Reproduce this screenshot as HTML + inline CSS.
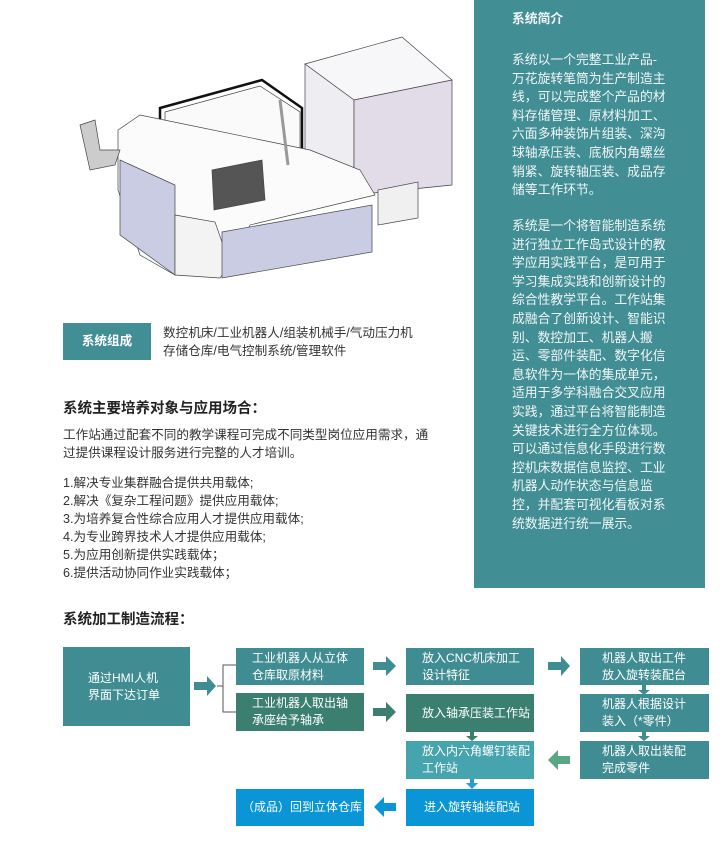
<!DOCTYPE html>
<html><head><meta charset="utf-8"><style>
*{margin:0;padding:0;box-sizing:border-box}
body{width:724px;height:846px;background:#fff;position:relative;overflow:hidden;font-family:"Liberation Sans","Noto Sans CJK SC",sans-serif;color:#333}
.a{position:absolute}
.panel{left:474px;top:0;width:231px;height:588px;background:#418e95;color:#eef;}
.panel p{position:absolute;left:38px;width:180px;font-size:12.8px;line-height:18.6px;color:#f2f6f6;white-space:nowrap}
.box{position:absolute;color:#fff;font-size:12px;line-height:17px;display:flex;align-items:center;padding-left:16px}
.t{background:#3f8d93}.g{background:#3b7f70}.l{background:#45a4ae}.b{background:#0a95d6}
.txt{font-size:12.6px;line-height:18px;color:#333}
</style></head><body>
<svg class="a" style="left:0;top:0" width="470" height="300">
<g stroke="#444" stroke-width="0.7">
<polygon points="305,64 402,37 452,80 354,100" fill="#f7f6f9"/>
<polygon points="305,64 354,100 354,190 305,172" fill="#eeedf2"/>
<polygon points="354,100 452,80 452,185 354,195" fill="#e2dce8"/>
<polygon points="378,190 418,182 418,218 378,225" fill="#f0f0f0"/>
<polygon points="160,108 262,80 302,108 302,150 160,150" fill="none" stroke="#111" stroke-width="2.5"/>
<polygon points="165,112 260,86 300,112 300,150 165,150" fill="#fafafa"/>
<polygon points="118,130 140,115 310,150 360,170 375,195 250,225 230,265 175,275 140,255 118,190" fill="#fbfbfb"/>
<polygon points="120,160 175,185 175,275 120,235" fill="#c9cce3"/>
<polygon points="175,215 215,222 230,265 220,278 175,275" fill="#f3f3f3"/>
<polygon points="222,232 372,205 372,252 222,278" fill="#c9cce3"/>
<polygon points="212,170 262,160 265,200 214,210" fill="#555"/>
<polygon points="80,125 95,120 100,150 120,150 115,165 90,170" fill="#ccc"/>
<line x1="280" y1="100" x2="288" y2="165" stroke="#999" stroke-width="3"/>
</g></svg>
<div class="panel a">
<p style="top:10px;font-weight:bold">系统简介</p>
<p style="top:51px">系统以一个完整工业产品-<br>万花旋转笔筒为生产制造主<br>线，可以完成整个产品的材<br>料存储管理、原材料加工、<br>六面多种装饰片组装、深沟<br>球轴承压装、底板内角螺丝<br>销紧、旋转轴压装、成品存<br>储等工作环节。</p>
<p style="top:217px">系统是一个将智能制造系统<br>进行独立工作岛式设计的教<br>学应用实践平台，是可用于<br>学习集成实践和创新设计的<br>综合性教学平台。工作站集<br>成融合了创新设计、智能识<br>别、数控加工、机器人搬<br>运、零部件装配、数字化信<br>息软件为一体的集成单元，<br>适用于多学科融合交叉应用<br>实践，通过平台将智能制造<br>关键技术进行全方位体现。<br>可以通过信息化手段进行数<br>控机床数据信息监控、工业<br>机器人动作状态与信息监<br>控，并配套可视化看板对系<br>统数据进行统一展示。</p>
</div>
<div class="a" style="left:63px;top:323px;width:88px;height:37px;background:#418e95;color:#fff;font-weight:bold;font-size:12.6px;line-height:37px;text-align:center">系统组成</div>
<div class="a txt" style="left:163px;top:324px">数控机床/工业机器人/组装机械手/气动压力机<br>存储仓库/电气控制系统/管理软件</div>
<div class="a" style="left:63px;top:397px;font-size:14.5px;font-weight:bold;color:#222">系统主要培养对象与应用场合：</div>
<div class="a txt" style="left:63px;top:426px">工作站通过配套不同的教学课程可完成不同类型岗位应用需求，通<br>过提供课程设计服务进行完整的人才培训。</div>
<div class="a txt" style="left:63px;top:474px">1.解决专业集群融合提供共用载体;<br>2.解决《复杂工程问题》提供应用载体;<br>3.为培养复合性综合应用人才提供应用载体;<br>4.为专业跨界技术人才提供应用载体;<br>5.为应用创新提供实践载体；<br>6.提供活动协同作业实践载体；</div>
<div class="a" style="left:63px;top:608px;font-size:14.5px;font-weight:bold;color:#222">系统加工制造流程：</div>
<div class="box t" style="left:63px;top:647px;width:127px;height:79px;padding-left:25px">通过HMI人机<br>界面下达订单</div>
<div class="box t" style="left:236px;top:648px;width:128px;height:37px">工业机器人从立体<br>仓库取原材料</div>
<div class="box g" style="left:236px;top:693px;width:128px;height:38px">工业机器人取出轴<br>承座给予轴承</div>
<div class="box t" style="left:406px;top:648px;width:128px;height:37px">放入CNC机床加工<br>设计特征</div>
<div class="box g" style="left:406px;top:694px;width:128px;height:38px">放入轴承压装工作站</div>
<div class="box l" style="left:406px;top:741px;width:128px;height:38px">放入内六角螺钉装配<br>工作站</div>
<div class="box b" style="left:406px;top:789px;width:128px;height:37px;padding-left:18px">进入旋转轴装配站</div>
<div class="box b" style="left:236px;top:789px;width:128px;height:37px;padding-left:6px">（成品）回到立体仓库</div>
<div class="box t" style="left:580px;top:648px;width:129px;height:37px;padding-left:22px">机器人取出工件<br>放入旋转装配台</div>
<div class="box t" style="left:580px;top:694px;width:129px;height:38px;padding-left:22px">机器人根据设计<br>装入（*零件）</div>
<div class="box t" style="left:580px;top:741px;width:129px;height:38px;padding-left:22px">机器人取出装配<br>完成零件</div>
<svg class="a" style="left:0;top:0" width="724" height="846">
<g fill="#3f8d93">
<polygon points="194,682 207,682 207,676 216,686 207,696 207,690 194,690"/>
<polygon points="373,662 386,662 386,656 396,666 386,676 386,670 373,670"/>
<polygon points="548,662 561,662 561,656 570,666 561,676 561,670 548,670"/>
<polygon points="642,685 646,685 646,690 650,690 644,695 638,690 642,690"/>
<polygon points="642,732 646,732 646,736 650,736 644,741 638,736 642,736"/>
</g>
<g fill="#3b7f70">
<polygon points="373,708 386,708 386,702 396,712 386,722 386,716 373,716"/>
<polygon points="470,732 474,732 474,736 478,736 472,741 466,736 470,736"/>
</g>
<polygon fill="#5aa584" points="570,756 558,756 558,750 548,760 558,770 558,764 570,764"/>
<polygon fill="#2a9ad8" points="470,779 474,779 474,783 478,783 472,789 466,783 470,783"/>
<polygon fill="#0a95d6" points="396,803 384,803 384,797 374,807 384,817 384,811 396,811"/>
<polyline points="236,665 223,665 223,712 236,712" fill="none" stroke="#555" stroke-width="1"/>
<line x1="217" y1="686" x2="223" y2="686" stroke="#555"/>
</svg>
</body></html>
